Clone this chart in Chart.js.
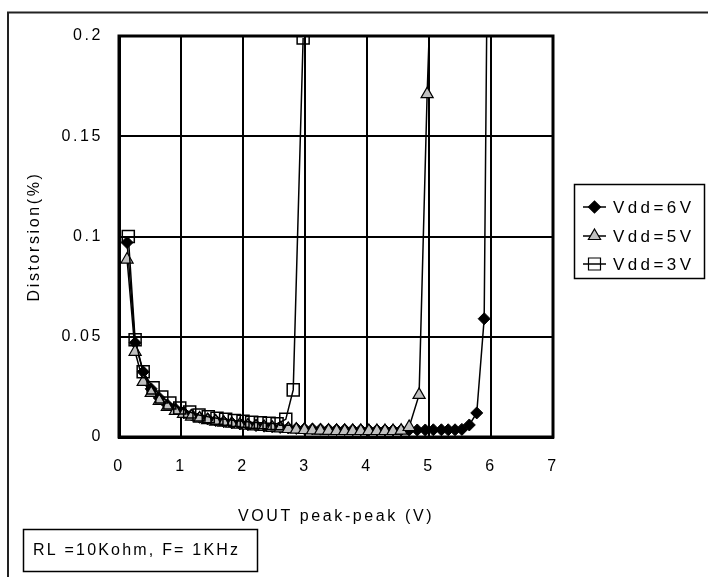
<!DOCTYPE html>
<html>
<head>
<meta charset="utf-8">
<title>Distorsion vs VOUT</title>
<script src="https://cdn.jsdelivr.net/npm/chart.js@4.4.1/dist/chart.umd.min.js"></script>
<style>
  body { margin: 0; background: #fff; }
  canvas { display: block; }
</style>
</head>
<body>
<canvas id="grafico" width="708" height="577"></canvas>
<script>
var seriesNames = ['Vdd=6V', 'Vdd=5V', 'Vdd=3V'];

var vout6 = [0.13, 0.26, 0.39, 0.52, 0.65, 0.78, 0.91, 1.04, 1.17, 1.30,
             1.43, 1.56, 1.69, 1.82, 1.95, 2.08, 2.21, 2.34, 2.47, 2.60,
             2.73, 2.86, 2.99, 3.12, 3.25, 3.38, 3.51, 3.64, 3.77, 3.90,
             4.03, 4.16, 4.29, 4.42, 4.55, 4.68, 4.81, 4.94, 5.07, 5.20,
             5.31, 5.42, 5.53, 5.65, 5.77, 5.89, 6.00];
var dist6 = [0.097, 0.047, 0.0325, 0.024, 0.0195, 0.016, 0.014, 0.0122, 0.011, 0.0098,
             0.009, 0.0082, 0.0076, 0.007, 0.0065, 0.0061, 0.0057, 0.0054, 0.0051, 0.0048,
             0.0045, 0.0043, 0.0041, 0.004, 0.0039, 0.0038, 0.0037, 0.0037, 0.0036, 0.0036,
             0.0035, 0.0035, 0.0035, 0.0035, 0.0035, 0.0035, 0.0035, 0.0035, 0.0036, 0.0036,
             0.0036, 0.0036, 0.0038, 0.006, 0.012, 0.059, 0.45];

var vout5 = [0.13, 0.26, 0.39, 0.52, 0.65, 0.78, 0.91, 1.04, 1.17, 1.30,
             1.43, 1.56, 1.69, 1.82, 1.95, 2.08, 2.21, 2.34, 2.47, 2.60,
             2.73, 2.86, 2.99, 3.12, 3.25, 3.38, 3.51, 3.64, 3.77, 3.90,
             4.03, 4.16, 4.29, 4.42, 4.55, 4.68, 4.84, 4.97, 5.10];
var dist5 = [0.0885, 0.0425, 0.0275, 0.022, 0.018, 0.015, 0.013, 0.0115, 0.0102, 0.0092,
             0.0084, 0.0077, 0.0071, 0.0066, 0.0061, 0.0057, 0.0053, 0.005, 0.0046, 0.0043,
             0.004, 0.0037, 0.0035, 0.0033, 0.0032, 0.0031, 0.003, 0.003, 0.003, 0.003,
             0.003, 0.003, 0.003, 0.003, 0.0032, 0.005, 0.021, 0.171, 0.29];

var vout3 = [0.15, 0.26, 0.39, 0.55, 0.69, 0.82, 0.98, 1.14, 1.29, 1.44,
             1.58, 1.72, 1.86, 2.00, 2.14, 2.28, 2.42, 2.55, 2.69, 2.81, 2.97];
var dist3 = [0.1, 0.0485, 0.0325, 0.0245, 0.02, 0.017, 0.0145, 0.0125, 0.011, 0.0101,
             0.0094, 0.0088, 0.0082, 0.0078, 0.0074, 0.0071, 0.0068, 0.0066, 0.0088, 0.0235, 0.199];

var xTickLabels = ['0', '1', '2', '3', '4', '5', '6', '7'];
var yTickLabels = ['0', '0.05', '0.1', '0.15', '0.2'];
var noteText = 'RL =10Kohm, F= 1KHz';

function toPoints(xs, ys) {
    return xs.map(function (x, i) { return { x: x, y: ys[i] }; });
}

// marcador a mano, igual que en el grafico
function marker(ctx, style, x, y) {
    ctx.save();
    ctx.lineWidth = 1.2;
    ctx.strokeStyle = '#000';
    ctx.beginPath();
    if (style === 'rectRot') {
        ctx.moveTo(x - 6, y); ctx.lineTo(x, y - 6); ctx.lineTo(x + 6, y); ctx.lineTo(x, y + 6);
        ctx.closePath();
        ctx.fillStyle = '#000'; ctx.fill(); ctx.stroke();
    } else if (style === 'triangle') {
        ctx.moveTo(x, y - 7); ctx.lineTo(x + 6.1, y + 3.5); ctx.lineTo(x - 6.1, y + 3.5);
        ctx.closePath();
        ctx.fillStyle = '#c0c0c0'; ctx.fill(); ctx.stroke();
    } else {
        ctx.rect(x - 6, y - 6, 12, 12);
        ctx.stroke();
    }
    ctx.restore();
}

var letterSpacing = {
    id: 'letterSpacing',
    beforeUpdate: function (chart) { chart.ctx.letterSpacing = '2.6px'; },
    beforeDraw: function (chart) { chart.ctx.letterSpacing = '2.6px'; }
};

var frame = {
    id: 'frame',
    afterDraw: function (chart) {
        var ctx = chart.ctx, a = chart.chartArea;
        ctx.save();
        // borde del area de trazado
        ctx.strokeStyle = '#000';
        ctx.lineWidth = 3;
        ctx.strokeRect(a.left, a.top, a.right - a.left, a.bottom - a.top);

        // marco exterior
        ctx.lineWidth = 2;
        ctx.strokeStyle = '#222';
        ctx.strokeRect(8, 12.5, 720, 600);

        // leyenda
        ctx.lineWidth = 1.5;
        ctx.strokeStyle = '#000';
        ctx.strokeRect(574.5, 184.5, 130, 94);
        var styles = ['rectRot', 'triangle', 'rect'];
        var rows = [207, 236, 264];
        ctx.font = '17px "Liberation Sans", Arial, sans-serif';
        ctx.letterSpacing = '3.4px';
        ctx.fillStyle = '#000';
        ctx.textAlign = 'left';
        ctx.textBaseline = 'middle';
        for (var i = 0; i < seriesNames.length; i++) {
            ctx.beginPath();
            ctx.lineWidth = 1.5;
            ctx.moveTo(583, rows[i]);
            ctx.lineTo(606, rows[i]);
            ctx.stroke();
            marker(ctx, styles[i], 594.5, rows[i]);
            ctx.fillText(seriesNames[i], 613, rows[i] + 1);
        }

        // nota de condiciones
        ctx.strokeRect(23.5, 529.5, 234, 42);
        ctx.font = '16px "Liberation Sans", Arial, sans-serif';
        ctx.letterSpacing = '2.2px';
        ctx.fillText(noteText, 33, 551);
        ctx.restore();
    }
};

var font = { family: '"Liberation Sans", Arial, sans-serif', size: 16 };

new Chart(document.getElementById('grafico'), {
    type: 'scatter',
    data: {
        datasets: [{
            label: seriesNames[0],
            data: toPoints(vout6, dist6),
            showLine: true,
            borderColor: '#000',
            borderWidth: 1.5,
            pointStyle: 'rectRot',
            pointRadius: 6,
            pointBackgroundColor: '#000',
            pointBorderColor: '#000',
            pointBorderWidth: 1,
            order: 3
        }, {
            label: seriesNames[1],
            data: toPoints(vout5, dist5),
            showLine: true,
            borderColor: '#000',
            borderWidth: 1.5,
            pointStyle: 'triangle',
            pointRadius: 7,
            pointBackgroundColor: '#c0c0c0',
            pointBorderColor: '#000',
            pointBorderWidth: 1.2,
            order: 2
        }, {
            label: seriesNames[2],
            data: toPoints(vout3, dist3),
            showLine: true,
            borderColor: '#000',
            borderWidth: 1.5,
            pointStyle: 'rect',
            pointRadius: 8.5,
            pointBackgroundColor: 'rgba(0,0,0,0)',
            pointBorderColor: '#000',
            pointBorderWidth: 1.5,
            order: 1
        }]
    },
    options: {
        responsive: false,
        animation: false,
        layout: { padding: { left: 0, top: 36, right: 155, bottom: 0 } },
        plugins: {
            legend: { display: false },
            tooltip: { enabled: false }
        },
        scales: {
            x: {
                type: 'linear',
                min: 0,
                max: 7,
                afterFit: function (scale) { scale.height = 140; },
                grid: { color: '#000', lineWidth: 2, drawTicks: false },
                border: { color: '#000', width: 3 },
                ticks: {
                    stepSize: 1,
                    padding: 20,
                    color: '#000',
                    font: font,
                    callback: function (v, i) { return xTickLabels[i]; }
                },
                title: {
                    display: true,
                    text: 'VOUT peak-peak (V)',
                    color: '#000',
                    font: font,
                    padding: { top: 0, bottom: 51 }
                }
            },
            y: {
                min: 0,
                max: 0.2,
                afterFit: function (scale) { scale.width = 119; },
                grid: { color: '#000', lineWidth: 2, drawTicks: false },
                border: { color: '#000', width: 3 },
                ticks: {
                    stepSize: 0.05,
                    padding: 16,
                    color: '#000',
                    font: font,
                    callback: function (v, i) { return yTickLabels[i]; }
                },
                title: {
                    display: true,
                    text: 'Distorsion(%)',
                    color: '#000',
                    font: font,
                    padding: { top: 25, bottom: 0 }
                }
            }
        }
    },
    plugins: [letterSpacing, frame]
});
</script>
</body>
</html>
